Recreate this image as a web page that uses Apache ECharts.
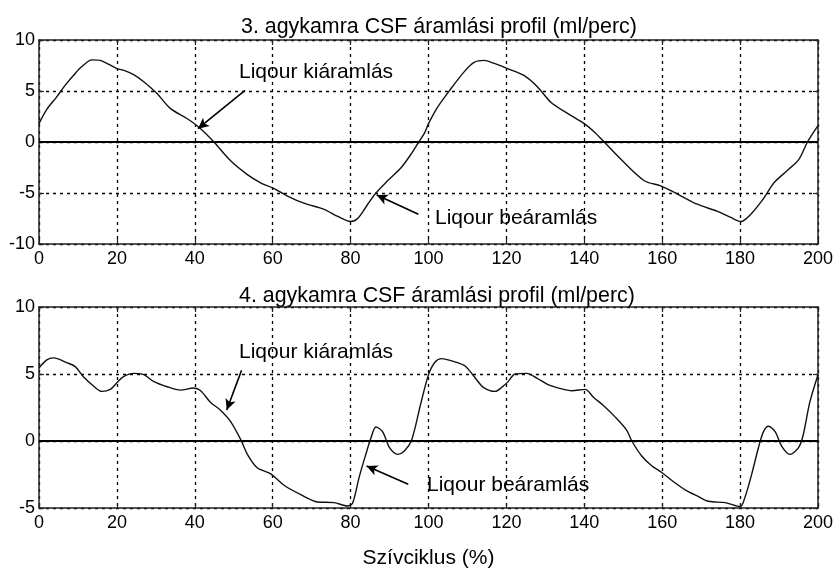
<!DOCTYPE html>
<html><head><meta charset="utf-8">
<script src="https://cdn.jsdelivr.net/npm/echarts@6/dist/echarts.min.js"></script>
<style>html,body{margin:0;padding:0;background:#fff}#c{width:837px;height:570px}</style>
</head><body><div id="c"></div>
<script>
const xTicks = [0,20,40,60,80,100,120,140,160,180,200];
const topTitle = '3. agykamra CSF áramlási profil (ml/perc)';
const bottomTitle = '4. agykamra CSF áramlási profil (ml/perc)';
const xName = 'Szívciklus (%)';

const topX = [0,2,4.5,7,9,11,13.6,15.7,18,20,22,24.3,26.9,30.3,33.7,38,41.5,44.9,49.2,53.5,56.9,60,63.8,68,73.2,76.7,80,81.8,84.4,86.5,89.5,93,95.5,97.5,99,100,102.3,105.7,109.2,111.7,114.3,116.9,120.3,124.6,128,131.4,135.7,140,142.5,145.1,149.4,155.4,159.6,163.9,169,174.2,177.6,180.2,182.7,186.1,188.7,192.1,195.1,197.3,200];
const topY = [1.8,3.2,4.4,5.7,6.6,7.4,8.05,8.0,7.6,7.2,7.0,6.6,5.9,4.75,3.3,2.3,1.3,0,-1.85,-3.2,-4.0,-4.5,-5.3,-6.0,-6.6,-7.3,-7.8,-7.5,-6.1,-5.0,-3.8,-2.5,-1.2,0,0.9,1.8,3.4,5.2,6.9,7.8,8.0,7.7,7.2,6.5,5.4,3.9,2.8,1.8,1.0,0,-1.7,-3.8,-4.3,-5.1,-6.1,-6.8,-7.4,-7.8,-7.1,-5.5,-4.0,-2.8,-1.7,0,1.6];

const botX = [0,2,3.7,7.1,9.3,11.4,14,16.1,18.3,20,21.7,24.3,26.9,29.4,32.9,36.3,39.7,41.5,44,46.6,49.2,51.8,53.5,56,59.5,62.9,67.2,71.5,75.8,79.2,80.5,82.2,83.9,85.2,86.5,88.2,90,92.1,93.8,95.7,97.9,100,101.7,103.4,106.8,109.4,111.6,114.1,117.1,118.8,120.5,122.2,125.2,127.8,130.7,133.4,136.8,140.2,142.4,144.9,147.9,150.9,152.2,154.7,157.3,159.9,162.5,165.9,169.3,171.9,176.2,180,181.3,183,184.7,186,187.3,189,190.7,192.8,195,196.2,197.9,200];
const botY = [5.45,6.05,6.2,5.85,5.55,4.8,4.1,3.7,3.85,4.35,4.8,5.05,4.95,4.45,4.05,3.8,3.95,3.75,2.9,2.3,1.45,0.1,-1.0,-2.0,-2.45,-3.3,-4.0,-4.55,-4.6,-4.85,-4.65,-2.7,-1.0,0.2,1.05,0.7,-0.5,-1.0,-0.75,0.1,2.65,4.95,5.9,6.15,5.9,5.6,4.85,4.0,3.7,4.0,4.45,5.0,5.05,4.7,4.2,3.95,3.75,3.85,3.25,2.65,1.8,0.8,0,-1.1,-1.85,-2.35,-2.95,-3.65,-4.15,-4.5,-4.6,-4.9,-4.15,-2.45,-0.5,0.7,1.1,0.7,-0.4,-1.0,-0.5,0.45,2.9,4.95];

const annoText = ['Liqour kiáramlás','Liqour beáramlás'];
// arrows in data coords: [fromX, fromY, toX, toY]
const topArrows = [[52.9,5.05,40.8,1.3],[97.4,-7.09,86.7,-5.19]];
const botArrows = [[52.0,5.27,48.2,2.31],[94.8,-3.23,84.1,-1.87]];

const FONT = 'Liberation Sans, Arial, sans-serif';
const pairs = (xs, ys) => xs.map((x,i)=>[x, ys[i]]);
const grids = [
  {left:39, right:19, top:40, height:204},
  {left:39, right:19, top:307, height:203}
];
const gridLine = {show:true, lineStyle:{color:'#000', type:[3,4], width:1.3}};
const axLine = {show:true, onZero:false, lineStyle:{color:'#222', width:1.5}};
const tick = {show:true, inside:true, length:5, lineStyle:{color:'#222', width:1.2}};
const xAxes = [], yAxes = [];
[0,1].forEach(g=>{
  xAxes.push({type:'value', gridIndex:g, min:0, max:200, interval:20, position:'bottom',
    axisLine:axLine, axisTick:tick, splitLine:gridLine,
    axisLabel:{color:'#000', fontSize:18, fontFamily:FONT, margin:6},
    name: g===1 ? xName : '', nameLocation:'middle', nameGap:40,
    nameTextStyle:{color:'#000', fontSize:21, fontFamily:FONT}});
  xAxes.push({type:'value', gridIndex:g, min:0, max:200, interval:20, position:'top',
    axisLine:axLine, axisTick:tick, splitLine:{show:false}, axisLabel:{show:false}});
  const ymin = g===0 ? -10 : -5;
  yAxes.push({type:'value', gridIndex:g, min:ymin, max:10, interval:5, position:'left',
    axisLine:axLine, axisTick:tick, splitLine:gridLine,
    axisLabel:{color:'#000', fontSize:18, fontFamily:FONT, margin:4}});
  yAxes.push({type:'value', gridIndex:g, min:ymin, max:10, interval:5, position:'right',
    axisLine:axLine, axisTick:tick, splitLine:{show:false}, axisLabel:{show:false}});
});

function arrowLines(arr){
  return arr.map(a=>[{coord:[a[0],a[1]]},{coord:[a[2],a[3]]}]);
}
function series(g, data){
  return {type:'line', xAxisIndex:g*2, yAxisIndex:g*2, data:data, showSymbol:false,
    smooth:0.3, lineStyle:{color:'#111', width:1.4}, silent:true, animation:false,
    markLine:{silent:true, animation:false, symbol:['none','none'], label:{show:false},
      lineStyle:{color:'#000', type:'solid', width:1.8},
      data:[{yAxis:0}]}};
}
function arrowSeries(g, arrows){
  return {type:'line', xAxisIndex:g*2, yAxisIndex:g*2, data:[], silent:true, animation:false,
    markLine:{silent:true, animation:false, symbol:['none','arrow'], symbolSize:[8,11], label:{show:false},
      lineStyle:{color:'#000', type:'solid', width:1.6},
      data:arrowLines(arrows)}};
}
const txt = (s, left, top, size) => ({type:'text', left:left, top:top,
  style:{text:s, fontSize:size, fontFamily:FONT, fill:'#000'}});

const chart = echarts.init(document.getElementById('c'), null, {renderer:'canvas'});
chart.setOption({
  backgroundColor:'#fff',
  animation:false,
  title:[
    {text:topTitle, left:236, top:12, textStyle:{fontSize:21.4, fontWeight:'normal', color:'#000', fontFamily:FONT}},
    {text:bottomTitle, left:234, top:281, textStyle:{fontSize:21.4, fontWeight:'normal', color:'#000', fontFamily:FONT}}
  ],
  grid:grids,
  xAxis:xAxes,
  yAxis:yAxes,
  series:[series(0, pairs(topX, topY)), arrowSeries(0, topArrows),
          series(1, pairs(botX, botY)), arrowSeries(1, botArrows)],
  graphic:[
    txt(annoText[0], 239, 62, 21),
    txt(annoText[1], 435, 208, 21),
    txt(annoText[0], 239, 342, 21),
    txt(annoText[1], 427, 475, 21)
  ]
});
</script></body></html>
